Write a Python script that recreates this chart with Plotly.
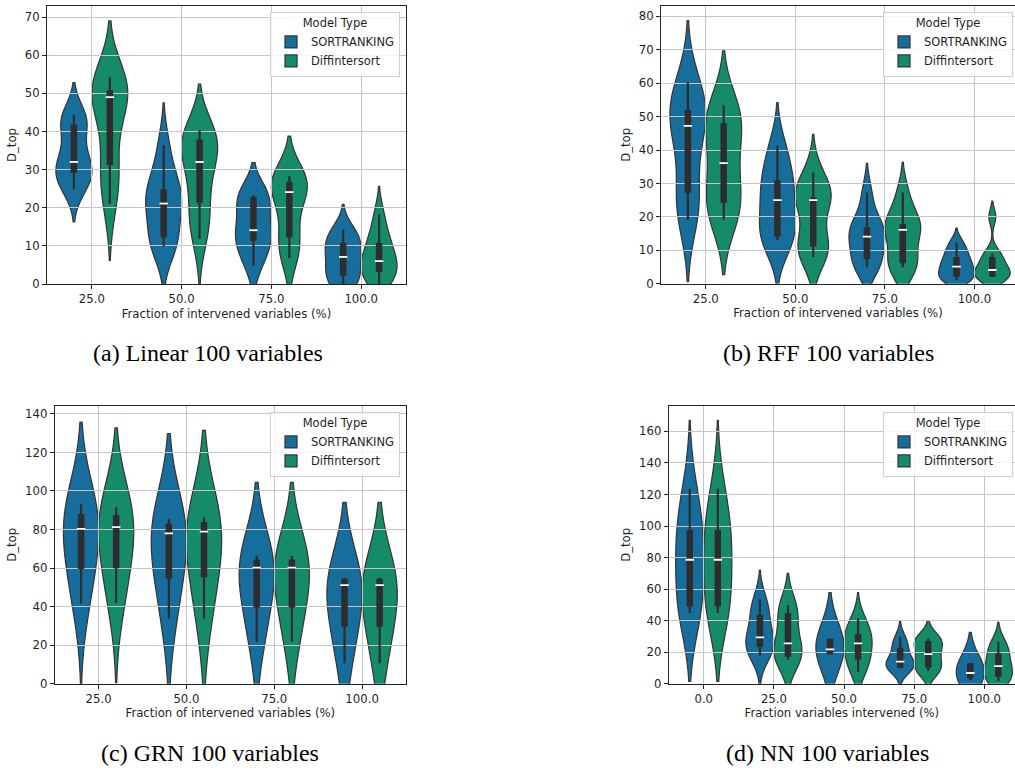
import numpy as np
import plotly.graph_objects as go

SERIES = ["SORTRANKING", "Diffintersort"]
COLORS = ["#176d9c", "#168b6a"]

# ---- (a) Linear, 100 variables: D_top samples per intervention fraction ----
LIN_FRACTIONS = ["25.0", "50.0", "75.0", "100.0"]
LIN_SORTRANKING = [
    [24.8, 27.0, 29.1, 30.5, 32.0, 36.0, 41.8, 43.0, 44.3],
    [9.9, 11.0, 12.2, 19.5, 21.1, 23.0, 24.8, 29.0, 36.4],
    [4.8, 8.5, 11.3, 13.0, 14.1, 18.0, 22.8, 23.0, 23.3],
    [0.0, 1.2, 2.2, 5.0, 7.1, 9.0, 10.8, 12.5, 14.3],
]
LIN_DIFFINTERSORT = [
    [21.0, 28.0, 31.2, 42.0, 49.0, 50.0, 50.8, 52.0, 54.2],
    [11.8, 17.0, 21.3, 28.0, 32.0, 35.0, 37.9, 39.0, 40.3],
    [6.8, 10.0, 12.2, 19.0, 24.1, 25.5, 26.8, 27.5, 28.3],
    [0.0, 2.0, 3.1, 5.0, 6.0, 8.0, 10.8, 13.0, 18.3],
]
LIN_BW_SORTRANKING = [4.25, 5.55, 4.25, 3.3]
LIN_BW_DIFFINTERSORT = [7.4, 6.05, 5.25, 3.65]

# ---- (b) RFF, 100 variables ----
RFF_FRACTIONS = ["25.0", "50.0", "75.0", "100.0"]
RFF_SORTRANKING = [
    [19.1, 24.0, 27.2, 40.0, 47.2, 50.0, 52.0, 55.0, 60.2],
    [13.1, 13.6, 14.1, 20.0, 25.0, 28.0, 30.9, 36.0, 41.3],
    [4.9, 6.0, 7.3, 12.0, 14.1, 15.5, 16.9, 20.0, 27.3],
    [1.1, 1.6, 2.1, 4.0, 5.1, 6.5, 8.0, 10.0, 12.3],
]
RFF_DIFFINTERSORT = [
    [19.1, 22.0, 24.2, 31.0, 36.1, 44.0, 48.0, 51.0, 53.3],
    [8.0, 10.0, 11.1, 14.0, 25.0, 25.4, 25.8, 28.0, 33.3],
    [4.9, 5.5, 6.1, 12.0, 16.1, 17.0, 17.9, 21.0, 27.3],
    [1.9, 2.0, 2.1, 3.5, 4.1, 6.0, 8.0, 9.1, 20.0],
]
RFF_BW_SORTRANKING = [9.25, 6.45, 4.35, 2.15]
RFF_BW_DIFFINTERSORT = [8.2, 5.7, 4.5, 2.35]

# ---- (c) GRN, 100 variables ----
GRN_FRACTIONS = ["25.0", "50.0", "75.0", "100.0"]
GRN_SORTRANKING = [
    [41.7, 50.0, 59.5, 72.0, 80.3, 85.0, 88.1, 91.0, 93.4],
    [33.7, 44.0, 54.5, 68.0, 78.0, 80.0, 83.1, 84.0, 85.3],
    [21.6, 30.0, 39.5, 52.0, 60.2, 62.0, 64.5, 65.5, 66.4],
    [10.6, 20.0, 29.6, 42.0, 51.2, 53.0, 54.5, 54.8, 55.0],
]
GRN_DIFFINTERSORT = [
    [41.7, 50.0, 59.9, 72.0, 81.2, 85.0, 87.4, 90.0, 91.5],
    [33.7, 44.0, 55.2, 68.0, 78.9, 81.0, 83.9, 85.0, 86.2],
    [21.6, 30.0, 39.5, 52.0, 60.2, 62.0, 64.5, 65.5, 66.4],
    [10.6, 20.0, 29.6, 42.0, 51.2, 53.0, 54.5, 54.8, 55.0],
]
GRN_BW_SORTRANKING = [21.15, 22.25, 19.05, 19.55]
GRN_BW_DIFFINTERSORT = [20.6, 22.65, 19.05, 19.55]

# ---- (d) NN, 100 variables ----
NN_FRACTIONS = ["0.0", "25.0", "50.0", "75.0", "100.0"]
NN_SORTRANKING = [
    [44.8, 47.0, 49.0, 70.0, 78.6, 90.0, 97.4, 108.0, 123.7],
    [17.8, 21.0, 23.3, 26.0, 29.4, 35.0, 43.5, 48.0, 53.7],
    [18.6, 18.6, 18.6, 20.0, 21.8, 25.0, 28.5, 28.5, 28.5],
    [10.1, 10.1, 10.1, 12.0, 14.0, 17.0, 22.8, 25.0, 29.6],
    [2.1, 2.8, 3.4, 5.0, 6.8, 9.0, 12.9, 12.9, 12.9],
]
NN_DIFFINTERSORT = [
    [44.8, 47.0, 49.0, 70.0, 78.6, 90.0, 97.4, 108.0, 123.7],
    [15.4, 16.0, 17.1, 21.0, 25.6, 33.0, 44.6, 47.0, 49.9],
    [7.6, 12.0, 15.4, 21.0, 25.6, 28.0, 31.3, 36.0, 41.4],
    [8.0, 9.0, 10.1, 15.0, 18.8, 23.0, 27.1, 28.0, 28.7],
    [1.7, 3.0, 4.4, 8.0, 11.2, 15.0, 19.2, 23.0, 26.6],
]
NN_BW_SORTRANKING = [21.65, 9.2, 14.6, 5.05, 9.85]
NN_BW_DIFFINTERSORT = [21.65, 10.05, 8.15, 5.5, 6.15]

# ---------------------------------------------------------------------------
W, H = 1015, 770
FONT = "DejaVu Sans"
FS = 11.7
TEXT = "#1f1f1f"
EDGE = "#363636"
BOXC = "#2d2d2d"
GRID = "#c6c6c6"
DODGE = 0.2
VWIDTH = 0.4

PANELS = [
    dict(cats=LIN_FRACTIONS, groups=(LIN_SORTRANKING, LIN_DIFFINTERSORT),
         bws=(LIN_BW_SORTRANKING, LIN_BW_DIFFINTERSORT),
         frame=(47, 6, 406, 284), full_right=406, ymax=72.9, dtick=10,
         xtitle="Fraction of intervened variables (%)",
         caption="(a) Linear 100 variables", cap=(208, 353),
         leg=(400, 11.5), right_spine=True),
    dict(cats=RFF_FRACTIONS, groups=(RFF_SORTRANKING, RFF_DIFFINTERSORT),
         bws=(RFF_BW_SORTRANKING, RFF_BW_DIFFINTERSORT),
         frame=(661, 6, 1015, 283.7), full_right=1019.2, ymax=83.1, dtick=10,
         xtitle="Fraction of intervened variables (%)",
         caption="(b) RFF 100 variables", cap=(828, 353),
         leg=(1013, 11.5), right_spine=False),
    dict(cats=GRN_FRACTIONS, groups=(GRN_SORTRANKING, GRN_DIFFINTERSORT),
         bws=(GRN_BW_SORTRANKING, GRN_BW_DIFFINTERSORT),
         frame=(54.7, 406, 406, 683.7), full_right=406, ymax=144.1, dtick=20,
         xtitle="Fraction of intervened variables (%)",
         caption="(c) GRN 100 variables", cap=(210, 753),
         leg=(400, 411.5), right_spine=True),
    dict(cats=NN_FRACTIONS, groups=(NN_SORTRANKING, NN_DIFFINTERSORT),
         bws=(NN_BW_SORTRANKING, NN_BW_DIFFINTERSORT),
         frame=(668.7, 406, 1015, 683.7), full_right=1019.4, ymax=176.1, dtick=20,
         xtitle="Fraction variables intervened (%)",
         caption="(d) NN 100 variables", cap=(827, 753),
         leg=(1013, 411.5), right_spine=False),
]


def box_stats(values):
    """Quartiles and 1.5*IQR whiskers, as used for the inner box."""
    v = np.sort(np.asarray(values, dtype=float))
    q1, med, q3 = np.percentile(v, [25, 50, 75])
    iqr = q3 - q1
    lo = v[v >= q1 - 1.5 * iqr].min()
    hi = v[v <= q3 + 1.5 * iqr].max()
    return lo, q1, med, q3, hi


def ref(i, letter):
    return letter if i == 1 else f"{letter}{i}"


def axkey(i, letter):
    return f"{letter}axis" if i == 1 else f"{letter}axis{i}"


fig = go.Figure()
layout = dict(
    width=W, height=H,
    margin=dict(l=0, r=0, t=0, b=0),
    paper_bgcolor="white", plot_bgcolor="rgba(0,0,0,0)",
    font=dict(family=FONT, size=FS, color=TEXT),
    violinmode="overlay",
    showlegend=True,
    annotations=[],
)

for k, p in enumerate(PANELS):
    base, top = k + 1, k + 5
    legend_id = "legend" if k == 0 else f"legend{k + 1}"
    x0px, y0px, x1px, y1px = p["frame"]
    ncat = len(p["cats"])
    units_per_px = ncat / (p["full_right"] - x0px)
    xrange = [-0.5, -0.5 + (x1px - x0px) * units_per_px]
    yrange = [0, p["ymax"]]
    xdom = [x0px / W, x1px / W]
    ydom = [1 - y1px / H, 1 - y0px / H]

    wx, wy, bx, by, mx, my = [], [], [], [], [], []
    for s, (samples, bws) in enumerate(zip(p["groups"], p["bws"])):
        for c, (vals, bw) in enumerate(zip(samples, bws)):
            pos = c + (-DODGE if s == 0 else DODGE)
            fig.add_trace(go.Violin(
                y=vals, x0=pos, width=VWIDTH, bandwidth=bw,
                spanmode="soft", scalemode="width", side="both",
                points=False, box_visible=False, meanline_visible=False,
                fillcolor=COLORS[s], opacity=1,
                line=dict(color=EDGE, width=1.25),
                name=SERIES[s], legendgroup=f"{k}-{s}", legend=legend_id,
                showlegend=(c == 0), hoverinfo="skip",
                xaxis=ref(base, "x"), yaxis=ref(base, "y"),
            ))
            lo, q1, med, q3, hi = box_stats(vals)
            wx += [pos, pos, None]
            wy += [lo, hi, None]
            bx += [pos, pos, None]
            by += [q1, q3, None]
            mx.append(pos)
            my.append(med)

    common = dict(xaxis=ref(top, "x"), yaxis=ref(top, "y"), showlegend=False,
                  hoverinfo="skip")
    fig.add_trace(go.Scatter(x=wx, y=wy, mode="lines",
                             line=dict(color=BOXC, width=2.2), **common))
    fig.add_trace(go.Scatter(x=bx, y=by, mode="lines",
                             line=dict(color=BOXC, width=6.5), **common))
    fig.add_trace(go.Scatter(x=mx, y=my, mode="markers",
                             marker=dict(symbol="line-ew", size=6, color="white",
                                         line=dict(color="white", width=1.8)),
                             **common))

    # hidden axes carrying the violins (drawn underneath the grid)
    layout[axkey(base, "x")] = dict(domain=xdom, range=xrange, anchor=ref(base, "y"),
                                    visible=False, fixedrange=True, type="linear")
    layout[axkey(base, "y")] = dict(domain=ydom, range=yrange, anchor=ref(base, "x"),
                                    visible=False, fixedrange=True)
    # visible axes: grid, spines, ticks and the inner boxes on top
    layout[axkey(top, "x")] = dict(
        domain=xdom, range=xrange, anchor=ref(top, "y"), type="linear",
        tickmode="array", tickvals=list(range(ncat)), ticktext=p["cats"],
        showgrid=True, gridcolor=GRID, gridwidth=1, zeroline=False,
        showline=True, linecolor="#222222", linewidth=1, mirror=True,
        ticks="outside", ticklen=4, tickwidth=1, tickcolor="#222222",
        tickfont=dict(size=FS, color=TEXT), automargin=False, fixedrange=True,
        title=dict(text=p["xtitle"], standoff=4, font=dict(size=FS, color=TEXT)),
    )
    layout[axkey(top, "y")] = dict(
        domain=ydom, range=yrange, anchor=ref(top, "x"),
        dtick=p["dtick"], tick0=0,
        showgrid=True, gridcolor=GRID, gridwidth=1, zeroline=False,
        showline=True, linecolor="#222222", linewidth=1,
        mirror=p["right_spine"],
        ticks="outside", ticklen=4, tickwidth=1, tickcolor="#222222",
        tickfont=dict(size=FS, color=TEXT), automargin=False, fixedrange=True,
        title=dict(text="D_top", standoff=5, font=dict(size=FS, color=TEXT)),
    )

    lx, ly = p["leg"]
    layout[legend_id] = dict(
        x=lx / W, y=1 - ly / H, xanchor="right", yanchor="top",
        xref="paper", yref="paper",
        bgcolor="rgba(255,255,255,0.8)", bordercolor="#d0d0d0", borderwidth=1,
        font=dict(family=FONT, size=11.5, color=TEXT),
        title=dict(text="Model Type", side="top center",
                   font=dict(family=FONT, size=11.5, color=TEXT)),
        tracegroupgap=0, itemclick=False, itemdoubleclick=False,
    )

    cx, cy = p["cap"]
    layout["annotations"].append(dict(
        text=p["caption"], x=cx / W, y=1 - cy / H, xref="paper", yref="paper",
        xanchor="center", yanchor="middle", showarrow=False,
        font=dict(family="Liberation Serif", size=24, color="black"),
    ))

fig.update_layout(**layout)
fig.write_html("out.html")
